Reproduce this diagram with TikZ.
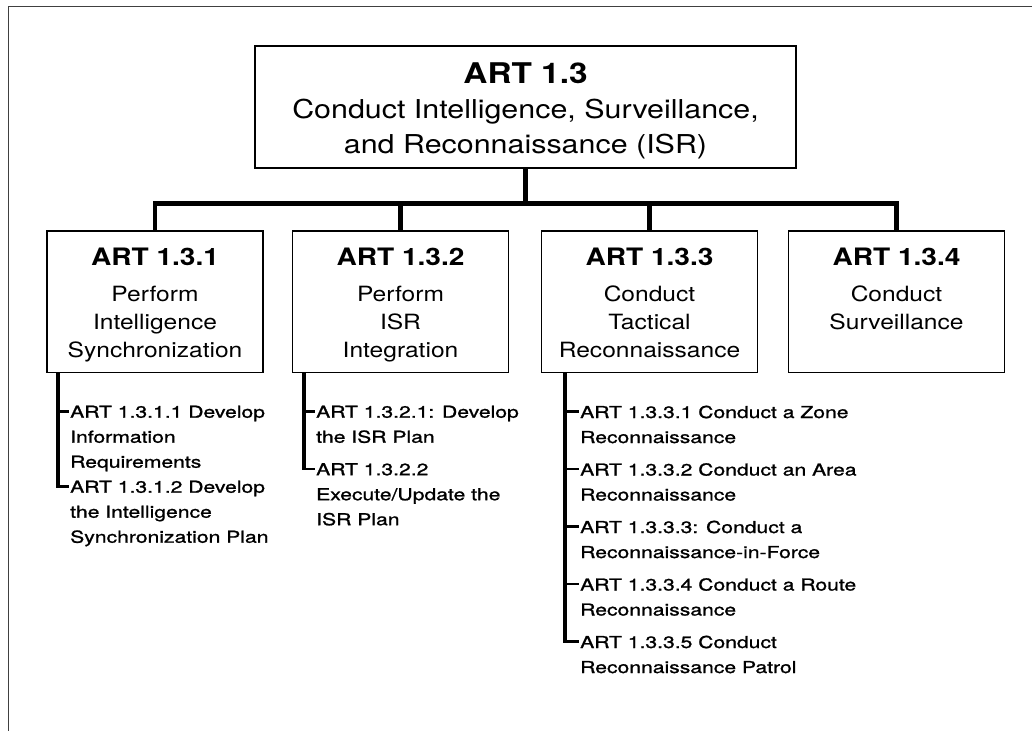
\documentclass[tikz,border=0pt]{standalone}
\usepackage{fontspec}
\setmainfont{TeX Gyre Heros}[FakeStretch=1.17]
\newfontfamily\itemfont{TeX Gyre Heros}[FakeStretch=1.28,FakeBold=1.2]
\begin{document}
\begin{tikzpicture}[x=1bp,y=-1bp,
  frameline/.style={draw=black!75, line width=1.3bp},
  topbox/.style={draw, line width=2bp, inner sep=0, minimum width=541bp, minimum height=122bp},
  cbox/.style={draw, line width=1.8bp, inner sep=0, minimum width=216bp, minimum height=141.5bp},
  ttitle/.style={inner sep=0, anchor=base, font=\bfseries\fontsize{28.5bp}{30bp}\selectfont},
  tbody/.style={inner sep=0, anchor=base, font=\fontsize{26bp}{35bp}\selectfont},
  ctitle/.style={inner sep=0, anchor=base, font=\bfseries\fontsize{24bp}{28bp}\selectfont},
  cbody/.style={inner sep=0, anchor=base, font=\fontsize{21bp}{28bp}\selectfont},
  item/.style={inner sep=0, anchor=north west, align=left, font=\itemfont\fontsize{16.5bp}{25bp}\selectfont},
  trunk/.style={line width=4.6bp},
  stemline/.style={line width=4bp},
  tickline/.style={line width=2.6bp}
]
\useasboundingbox (0,0) rectangle (1032,731);
\draw[frameline] (8.5,731) -- (8.5,6.7) -- (1032,6.7);

% top box
\node[topbox] (top) at (525.5,107) {};
\node[ttitle] (topt) at (525.5,83.3) {ART 1.3};
\node[tbody] (topa) at (525.5,118.3) {Conduct Intelligence, Surveillance,};
\node[tbody] (topb) at (525.5,153.3) {and Reconnaissance (ISR)};

% child boxes
\node[cbox] (c1) at (155,301.75) {};
\node[ctitle] (c1t) at (155,265.7) {ART 1.3.1};
\node[cbody] (c1a) at (155,301.7) {Perform};
\node[cbody] (c1b) at (155,329.7) {Intelligence};
\node[cbody] (c1c) at (155,357.7) {Synchronization};

\node[cbox] (c2) at (400.5,301.75) {};
\node[ctitle] (c2t) at (400.5,265.7) {ART 1.3.2};
\node[cbody] (c2a) at (400.5,301.7) {Perform};
\node[cbody] (c2b) at (400.5,329.7) {ISR};
\node[cbody] (c2c) at (400.5,357.7) {Integration};

\node[cbox] (c3) at (649.5,301.75) {};
\node[ctitle] (c3t) at (649.5,265.7) {ART 1.3.3};
\node[cbody] (c3a) at (649.5,301.7) {Conduct};
\node[cbody] (c3b) at (649.5,329.7) {Tactical};
\node[cbody] (c3c) at (649.5,357.7) {Reconnaissance};

\node[cbox] (c4) at (896.5,301.75) {};
\node[ctitle] (c4t) at (896.5,265.7) {ART 1.3.4};
\node[cbody] (c4a) at (896.5,301.7) {Conduct};
\node[cbody] (c4b) at (896.5,329.7) {Surveillance};

% tree
\coordinate (bar) at (525.5,203.5);
\draw[trunk] (top.south) -- (bar);
\draw[trunk] (c1.north) -- (c1.north |- bar) -- (c4.north |- bar) -- (c4.north);
\draw[trunk] (c2.north) -- (c2.north |- bar);
\draw[trunk] (c3.north) -- (c3.north |- bar);

% sub items, box 1
\node[item] (i11) at (70,405.5) {ART 1.3.1.1 Develop\\Information\\Requirements};
\node[item] (i12) at (70,480.5) {ART 1.3.1.2 Develop\\the Intelligence\\Synchronization Plan};
\coordinate (j11) at ([shift={(-12,6)}]i11.north west);
\coordinate (j12) at ([shift={(-12,6)}]i12.north west);
\draw[stemline] (c1.south -| j11) -- ([shift={(0,1.3)}]j12);
\draw[tickline] ([xshift=-2bp]j11) -- ([xshift=-1bp]i11.west |- j11);
\draw[tickline] ([xshift=-2bp]j12) -- ([xshift=-1bp]i12.west |- j12);

% sub items, box 2
\node[item] (i21) at (316,405.5) {ART 1.3.2.1: Develop\\the ISR Plan};
\node[item] (i22) at (316,463) {ART 1.3.2.2\\Execute/Update the\\ISR Plan};
\coordinate (j21) at ([shift={(-12,6)}]i21.north west);
\coordinate (j22) at ([shift={(-12,6)}]i22.north west);
\draw[stemline] (c2.south -| j21) -- ([shift={(0,1.3)}]j22);
\draw[tickline] ([xshift=-2bp]j21) -- ([xshift=-1bp]i21.west |- j21);
\draw[tickline] ([xshift=-2bp]j22) -- ([xshift=-1bp]i22.west |- j22);

% sub items, box 3
\node[item] (i31) at (580,405.5) {ART 1.3.3.1 Conduct a Zone\\Reconnaissance};
\node[item] (i32) at (580,463) {ART 1.3.3.2 Conduct an Area\\Reconnaissance};
\node[item] (i33) at (580,520.5) {ART 1.3.3.3: Conduct a\\Reconnaissance-in-Force};
\node[item] (i34) at (580,578) {ART 1.3.3.4 Conduct a Route\\Reconnaissance};
\node[item] (i35) at (580,635.5) {ART 1.3.3.5 Conduct\\Reconnaissance Patrol};
\coordinate (j31) at ([shift={(-15,6)}]i31.north west);
\coordinate (j32) at ([shift={(-15,6)}]i32.north west);
\coordinate (j33) at ([shift={(-15,6)}]i33.north west);
\coordinate (j34) at ([shift={(-15,6)}]i34.north west);
\coordinate (j35) at ([shift={(-15,6)}]i35.north west);
\draw[stemline] (c3.south -| j31) -- ([shift={(0,1.3)}]j35);
\foreach \k in {1,...,5}{
  \draw[tickline] ([xshift=-2bp]j3\k) -- ([xshift=-1bp]i3\k.west |- j3\k);
}
\end{tikzpicture}
\end{document}
